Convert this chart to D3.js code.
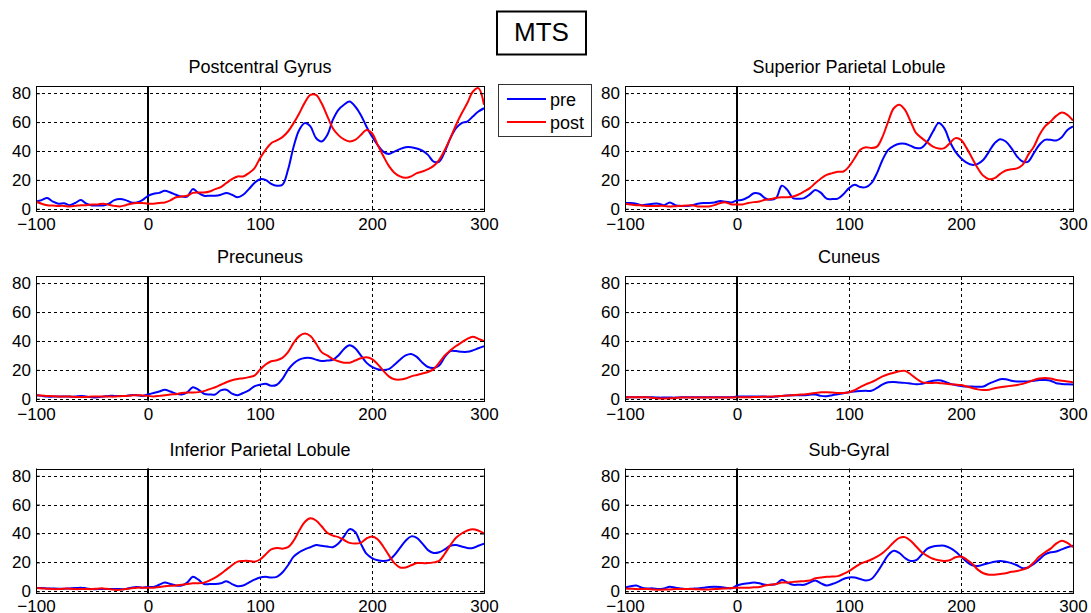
<!DOCTYPE html>
<html>
<head>
<meta charset="utf-8">
<script src="https://cdn.jsdelivr.net/npm/d3@7"></script>
<style>
  html, body { margin: 0; padding: 0; background: #fff; }
  svg { display: block; font-family: "Liberation Sans", Arial, sans-serif; }
</style>
</head>
<body>
<svg id="chart" width="1091" height="613"></svg>
<script>
// ---------------- data ----------------
const times = [-100,-95,-90,-85,-80,-75,-70,-65,-60,-55,
  -50,-45,-40,-35,-30,-25,-20,-15,-10,-5,
  0,5,10,15,20,25,30,35,40,45,
  50,55,60,65,70,75,80,85,90,95,
  100,105,110,115,120,125,130,135,140,145,
  150,155,160,165,170,175,180,185,190,195,
  200,205,210,215,220,225,230,235,240,245,
  250,255,260,265,270,275,280,285,290,295,
  300];

const xTicks = [-100, 0, 100, 200, 300];
const yTicks = [0, 20, 40, 60, 80];
const seriesNames = ["pre", "post"];
const chartTitle = "MTS";
const regions = ["Postcentral Gyrus", "Superior Parietal Lobule", "Precuneus", "Cuneus", "Inferior Parietal Lobule", "Sub-Gyral"];

const pcPre = [5,6,7.4,5,3.5,3.8,2.5,4,6,3.5,
  2.3,2.3,2.3,3.5,6,6.7,6,4.4,4.4,6,
  9,10.4,11,12.5,11.3,9.7,8.5,8.5,13.6,11,
  9,9,9,9.7,11,9.7,8,9.7,13.6,17.8,
  20.5,20,17.3,16,16.6,27,43,54.6,59.3,57,
  49,46.6,51,61.5,68.5,72,74.2,70.8,65,57,
  50,44.3,39.6,38,39.6,41.3,42.6,42.6,41.7,40.3,
  37.3,32.7,32.7,39.6,48.9,55.8,59.3,60.4,63.9,67.3,
  69.6];
const pcPost = [5,3.5,2.5,2.3,2,2,1.6,2,2.5,2.5,
  3,3,3.5,2.8,2,1.6,2.5,3.5,4,4,
  3.5,3.5,4,4.4,5.8,8,8.5,9,11,11.3,
  11.3,12,13.6,15,17.8,20.5,22.4,22.4,24.7,28,
  35,40.8,45.4,47.3,49.6,53.5,59.3,66,73.5,78.8,
  78.8,73,64.3,55.8,51,48,46.6,47.7,51,54.6,
  52.3,44.3,36.7,29.7,25,22.4,21.4,22.4,24.7,25.8,
  27.4,29.7,33.9,40.8,48.9,58,66,73,81,83.5,
  72];

const spPre = [4,4,3.5,2.5,3,3.5,3.5,2.5,4.4,2.5,
  2,2,2.5,3.5,4,4,4.4,5.3,4.8,4.4,
  5.8,6.2,8,10.8,10.4,7.4,6.2,7.4,16,13,
  7.4,7,7.4,10,13,11,7,6.7,7,10,
  14.3,16.6,15,15,17.8,24.7,33.9,40.8,43.6,45,
  45,43.6,42,42.4,46.6,53.5,59.3,55.8,46.6,39.6,
  35,32,30.4,31.1,33.9,39.6,45.4,48.2,46.6,42,
  36.2,32.7,32.7,38.5,44.3,47.7,47.7,47.3,49.6,54.6,
  57];
const spPost = [3.5,3,2.5,2.3,2,2,2,2,1.6,1.8,
  2,2.2,2.5,1.6,1.6,1.6,2.5,4,4.4,3,
  3,3,4,4.6,5,6.2,6.7,7.6,8,8,
  8.5,9.9,12,14.3,17.8,21,23.5,24.7,25.6,25.8,
  29.3,35,40.8,42.6,42,43,50,60.4,69.6,72,
  68.5,60.4,52.3,48.9,45.9,43,41.7,42,45.4,48.9,
  47.7,42,35,28,22.8,20.5,21.2,24.2,26.5,27.4,
  28,30.4,37.3,43,51,57,60.4,64.3,66.6,65,
  61];

const prPre = [2.5,2,1.5,1.5,1.5,1.5,1.5,1.5,2,1.5,
  1,1,1.5,2,2,2,2,2.5,2.5,2,
  3,4,5,6.3,5,3.5,3,4.4,8,6.3,
  3.5,3,3,5.8,6.3,3.5,2.5,4,5.8,8.6,
  9.7,10.4,9,9.7,13.7,20,24.4,27.1,28.3,28.3,
  27.1,26.2,26.5,27,30,34.5,37,35,30,25,
  22,20.5,20,20.5,23.5,27,30,31,29,25,
  22,21.3,23,29,33,33,32.5,32.5,33.5,35,
  36.4];
const prPost = [2.5,2.3,2,1.8,1.5,1.5,1.5,1.3,1.2,1.3,
  1.5,1.5,1.5,1.5,1.5,1.8,2,2.3,2.5,2.3,
  2,1.6,2,2.5,3,3.2,4,4.4,4.4,4.6,
  5.3,6.7,8,9.7,11.4,12.8,13.7,14.2,15,16,
  20.2,23.7,26,26.7,28.3,32.3,38.7,43.4,45.2,43.4,
  38.3,32.3,30,27.5,26,25,25,26.5,28,28.8,
  27.5,24,19.5,15.5,13.5,13.3,14,15.5,16.5,17.5,
  18.5,20.5,25,30,33.5,36.5,39,41.5,43,41.5,
  40];

const cuPre = [1,1,1,1,1,1,0.8,0.8,0.8,0.8,
  1,1,1,1,1,1,1,1,1,1,
  1.5,1.5,1.5,1.5,1.5,1.5,1.3,1.5,2,2.3,
  2.5,2.5,2.5,2.8,3,2,1.8,2.5,3.2,3.8,
  4.5,5,5.3,5.5,5.5,7.5,10,11.4,11.6,11.2,
  11,10.5,10,10.3,11.5,12.5,12.8,12,10.5,9.5,
  8.9,8.5,8.5,8.3,8.5,10.5,12,13.5,13.5,12.5,
  12,12,12,12.5,13,13,12.5,10.8,10.3,10,
  9.9];
const cuPost = [1,1,1,1,1,0.6,0.2,0.2,0.3,0.5,
  0.8,0.8,0.8,0.8,0.8,0.8,0.8,0.8,0.8,0.9,
  1,1,1,1.2,1.3,1.4,1.5,1.7,2,2.2,
  2.5,2.8,3,3.5,4,4.5,4.5,4.3,4,4,
  4.5,6,8,10,11.5,13.5,15.5,17,18,19,
  19.3,17,14,11.5,11,11,11,10.5,10,9.8,
  9.5,8.5,7.5,6.5,6,6.3,7.3,8,8.5,9,
  9.5,10.3,11.5,13,14,14.3,14,13,12.5,12,
  11.5];

const ipPre = [2.3,2.2,2,1.9,1.8,1.8,2,2.2,2.5,2,
  1.5,1.5,1.5,1.5,1.5,1.5,1.5,2.5,3,2.5,
  3,3,4.5,6,5,4,4,6,10,8,
  5,5,5,5.5,7,5,3.5,4,6,8,
  9.5,10,9.5,10,13,18,24,27,29,30.5,
  32,31.5,31,30.5,33,38,43,41,33,26,
  23,21.5,21,21.5,25,30,35,38,37,33,
  28.5,26.5,27,29,31.5,32,31,30,30,31.5,
  33];
const ipPost = [2.3,2,1.8,1.5,1.5,1.8,1.8,1.5,1.5,1.5,
  1.5,1.8,2,1.5,1,1,1.5,2,2.5,2.5,
  2.5,2.5,3,3.5,3.8,4,4.5,5,5.5,5.5,
  6,7.5,9.5,12,15,18,20.5,21,21,20.5,
  22,25.5,29,30,29.5,30.5,35,42,48,50.5,
  49,45,40.5,38.5,37.5,35.5,33.5,33,33.5,36.5,
  38,36,31,25,19.5,16.5,16.5,18,19.5,19.5,
  19.5,20,21,26,32,37,40,42,43,42,
  40];

const sgPre = [2.5,3.5,4,2.5,2,2,1.5,2,3.2,2.5,
  2,1.5,1.8,2,2.5,3,3.2,3,2.5,2,
  4,5,5.5,6,5.5,4.5,4.5,5,8,6,
  4.5,4.5,4.5,6,7.5,5.5,4,5,6.5,8.5,
  9.5,9.5,8.5,7.5,8.5,13,19,25,28,26.5,
  23,21,21.5,25.5,29.5,31,31.5,31.5,30,27.5,
  24,20.5,18,17.5,18.5,19.5,20.5,21,20.5,19.5,
  18,16,16.5,19,22,25.5,27,27.5,29,30.5,
  31.5];
const sgPost = [2,1.8,1.5,1.5,1.5,1.2,1,1.2,1.3,1.5,
  1.5,1.5,1.5,1.4,1.3,1.3,1.5,1.8,2,2.3,
  2.5,2.5,2.5,2.8,3,4,4.5,5,6,6,
  6.5,6.8,7,7.5,9,9.5,10,10.2,10.5,12,
  14,16.5,19,20.5,22,24,26.5,30,34,37,
  37.5,35,31,27,24.5,22.5,21.5,21,21.5,23.5,
  24,22,19,15,12.5,11.5,11.5,12,12.5,13.5,
  14,15,16.5,20,24,27,29.5,33,35,33.5,
  30.5];

const preSeries = [pcPre, spPre, prPre, cuPre, ipPre, sgPre];
const postSeries = [pcPost, spPost, prPost, cuPost, ipPost, sgPost];

// ---------------- layout ----------------
const colX = [36, 625];
const rowY = [86, 276, 468.5];
const plotW = 448, plotH = 124.5;
const colors = { pre: "#0000ff", post: "#ff0000" };
const FONT = "'Liberation Sans', Arial, sans-serif";

const svg = d3.select("#chart");
svg.append("rect").attr("width", 1091).attr("height", 613).attr("fill", "#fff");

regions.forEach((name, i) => {
  const x0 = colX[i % 2], y0 = rowY[Math.floor(i / 2)];
  const x = d3.scaleLinear().domain([-100, 300]).range([x0, x0 + plotW]);
  const y = d3.scaleLinear().domain([-1.2, 85]).range([y0 + plotH, y0]);
  const g = svg.append("g");

  const cid = "clip" + i;
  svg.append("defs").append("clipPath").attr("id", cid)
    .append("rect").attr("x", x0).attr("y", y0).attr("width", plotW).attr("height", plotH);

  // grid
  const grid = g.append("g").attr("stroke", "#000").attr("stroke-width", 1)
    .attr("stroke-dasharray", "3,3").attr("shape-rendering", "crispEdges");
  yTicks.forEach(v => {
    grid.append("line").attr("x1", x0).attr("x2", x0 + plotW)
      .attr("y1", Math.round(y(v)) + 0.5).attr("y2", Math.round(y(v)) + 0.5);
  });
  xTicks.filter(v => v !== 0 && v !== -100 && v !== 300).forEach(v => {
    grid.append("line").attr("y1", y0).attr("y2", y0 + plotH)
      .attr("x1", Math.round(x(v)) + 0.5).attr("x2", Math.round(x(v)) + 0.5);
  });

  // zero line
  g.append("line").attr("x1", x(0)).attr("x2", x(0)).attr("y1", y0).attr("y2", y0 + plotH)
    .attr("stroke", "#000").attr("stroke-width", 2);

  // lines
  const line = d3.line().x((d, k) => x(times[k])).y(d => y(d)).curve(d3.curveCatmullRom.alpha(0.5));
  const lg = g.append("g").attr("clip-path", `url(#${cid})`);
  lg.append("path").datum(preSeries[i]).attr("d", line).attr("fill", "none")
    .attr("stroke", colors.pre).attr("stroke-width", 2).attr("stroke-linejoin", "round");
  lg.append("path").datum(postSeries[i]).attr("d", line).attr("fill", "none")
    .attr("stroke", colors.post).attr("stroke-width", 2).attr("stroke-linejoin", "round");

  // axes
  const axL = g.append("g").attr("transform", `translate(${x0},0)`)
    .call(d3.axisLeft(y).tickValues(yTicks).tickSize(-4).tickPadding(5).tickFormat(d3.format("d")));
  const axB = g.append("g").attr("transform", `translate(0,${y0 + plotH})`)
    .call(d3.axisBottom(x).tickValues(xTicks).tickSize(-4).tickPadding(7).tickFormat(d3.format("d")));
  const axR = g.append("g").attr("transform", `translate(${x0 + plotW},0)`)
    .call(d3.axisRight(y).tickValues(yTicks).tickSize(-4).tickFormat(""));
  const axT = g.append("g").attr("transform", `translate(0,${y0})`)
    .call(d3.axisTop(x).tickValues(xTicks).tickSize(-4).tickFormat(""));
  [axL, axB, axR, axT].forEach(a => {
    a.select(".domain").remove();
    a.selectAll("line").attr("stroke", "#000");
    a.selectAll("text").attr("font-family", FONT).attr("font-size", 17).attr("fill", "#000");
  });

  // box
  g.append("rect").attr("x", x0 + 0.5).attr("y", y0 + 0.5).attr("width", plotW).attr("height", plotH)
    .attr("fill", "none").attr("stroke", "#000").attr("stroke-width", 1).attr("shape-rendering", "crispEdges");

  // title
  g.append("text").attr("x", x0 + plotW / 2).attr("y", y0 - 13)
    .attr("text-anchor", "middle").attr("font-family", FONT).attr("font-size", 18)
    .attr("fill", "#000").text(name);
});

// main title box
svg.append("rect").attr("x", 497).attr("y", 11.5).attr("width", 89).attr("height", 43)
  .attr("fill", "#fff").attr("stroke", "#000").attr("stroke-width", 2);
svg.append("text").attr("x", 541.5).attr("y", 41).attr("text-anchor", "middle")
  .attr("font-family", FONT).attr("font-size", 26).attr("fill", "#000").text(chartTitle);

// legend
const leg = svg.append("g");
leg.append("rect").attr("x", 498.5).attr("y", 84.5).attr("width", 93).attr("height", 52)
  .attr("fill", "#fff").attr("stroke", "#333").attr("stroke-width", 1);
seriesNames.forEach((s, k) => {
  const yy = 99 + k * 23;
  leg.append("line").attr("x1", 507).attr("x2", 546).attr("y1", yy).attr("y2", yy)
    .attr("stroke", colors[s]).attr("stroke-width", 2);
  leg.append("text").attr("x", 550).attr("y", yy + 7).attr("font-family", FONT)
    .attr("font-size", 18).attr("fill", "#000").text(s);
});
</script>
</body>
</html>
